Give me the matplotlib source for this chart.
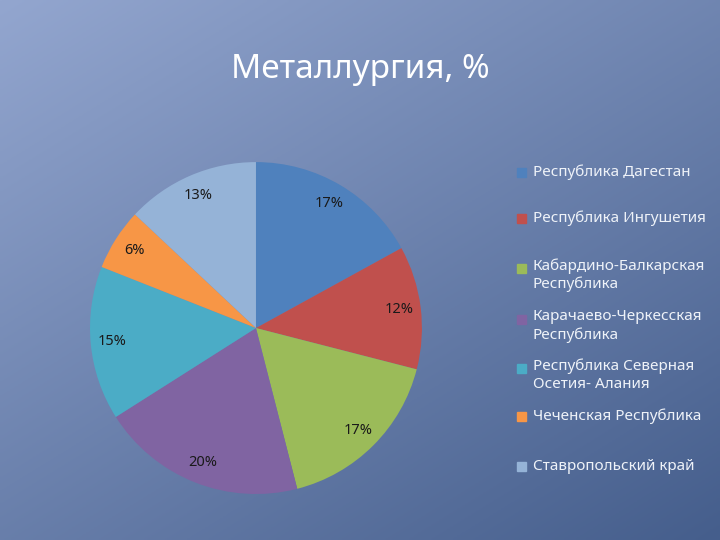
import matplotlib

matplotlib.use("Agg")
import matplotlib.pyplot as plt
import numpy as np

regions = [
    "Республика Дагестан",
    "Республика Ингушетия",
    "Кабардино-Балкарская\nРеспублика",
    "Карачаево-Черкесская\nРеспублика",
    "Республика Северная\nОсетия- Алания",
    "Чеченская Республика",
    "Ставропольский край",
]
shares = [17, 12, 17, 20, 15, 6, 13]
colors = ["#4F81BD", "#C0504D", "#9BBB59", "#8064A2", "#4BACC6", "#F79646", "#95B3D7"]
legend_y = [172, 218, 268, 319, 368, 416, 466]

plt.rcParams["font.family"] = ["Noto Sans", "DejaVu Sans"]
fig = plt.figure(figsize=(7.2, 5.4), dpi=100)

# background gradient
bg = fig.add_axes([0, 0, 1, 1])
yy, xx = np.mgrid[0:1:200j, 0:1:200j]
t = 0.55 * yy + 0.45 * xx
top = np.array([0x93, 0xA6, 0xCF]) / 255
bot = np.array([0x45, 0x5E, 0x8C]) / 255
img = top[None, None, :] * (1 - t[..., None]) + bot[None, None, :] * t[..., None]
bg.imshow(img, extent=[0, 1, 0, 1], aspect="auto")
bg.set_axis_off()

fig.text(0.5, 1 - 70 / 540, "Металлургия, %", ha="center", va="center", fontsize=24, color="white")

ax = fig.add_axes([0.125, 0.085, 0.461, 0.615])
ax.pie(shares, colors=colors, startangle=90, counterclock=False,
       autopct=lambda p: f"{p:.0f}%", pctdistance=0.87,
       textprops={"fontsize": 10.5, "color": "#1a1a1a"})
ax.set_xlim(-1, 1)
ax.set_ylim(-1, 1)
ax.set_aspect("equal")

for label, color, y in zip(regions, colors, legend_y):
    first_y = 1 - y / 540
    n = label.count("\n")
    fig.patches.append(plt.Rectangle((517 / 720, first_y - 0.009), 0.012, 0.016,
                                     transform=fig.transFigure, color=color))
    fig.text(533 / 720, first_y + (0.018 if n else 0), label, ha="left",
             va="top" if n else "center",
             fontsize=11, color="#EEF2F8", linespacing=1.25)

fig.savefig("out.png", dpi=100)
